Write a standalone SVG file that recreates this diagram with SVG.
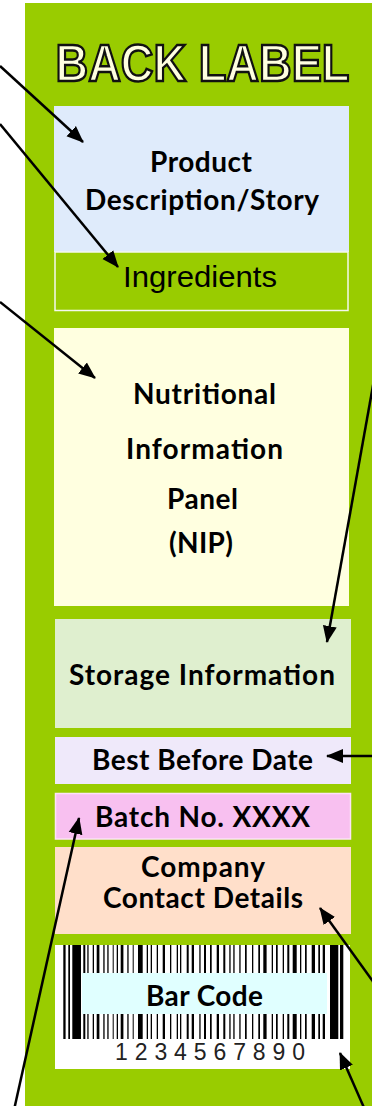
<svg xmlns="http://www.w3.org/2000/svg" width="372" height="1106" viewBox="0 0 372 1106">
<defs>
<style>
.lbl{font-family:Lato,"Open Sans","Liberation Sans",sans-serif;font-weight:bold;font-size:28px;fill:#000;text-anchor:middle}
.conn{stroke:#000;stroke-width:2.5;fill:none;marker-end:url(#ah)}
</style>
<marker id="ah" markerUnits="userSpaceOnUse" markerWidth="18" markerHeight="16" refX="16" refY="8" orient="auto">
<path d="M0,1 L17,8 L0,15 Z" fill="#000"/>
</marker>
</defs>
<rect x="0" y="0" width="372" height="1106" fill="#fff"/>
<rect x="25" y="3" width="347" height="1103" fill="#99cc00"/>
<g id="title">
<text x="202.5" y="81" font-family="'Liberation Sans',Arial,sans-serif" font-weight="bold" font-size="52" textLength="294" lengthAdjust="spacingAndGlyphs" text-anchor="middle" fill="#ffffe0" stroke="#111" stroke-width="2.5">BACK LABEL</text>
</g>
<g id="product">
<rect x="54" y="106" width="295" height="146" fill="#dfebfb"/>
<text class="lbl" x="201" y="172" textLength="102">Product</text>
<text class="lbl" x="202" y="210" textLength="234">Description/Story</text>
</g>
<g id="ingredients">
<rect x="55" y="252" width="293" height="58.5" fill="#99cc00" stroke="#f4f8ee" stroke-width="1.5"/>
<text x="200" y="287" font-family="'Liberation Sans',Arial,sans-serif" font-size="30" text-anchor="middle" textLength="154" lengthAdjust="spacingAndGlyphs">Ingredients</text>
</g>
<g id="nip">
<rect x="54" y="328" width="295" height="278" fill="#ffffe0"/>
<text class="lbl" x="204.5" y="404" textLength="143">Nutritional</text>
<text class="lbl" x="204.5" y="459" textLength="157">Information</text>
<text class="lbl" x="202.5" y="509" textLength="71">Panel</text>
<text class="lbl" x="201" y="553" textLength="64">(NIP)</text>
</g>
<g id="storage">
<rect x="55" y="619" width="296" height="109" fill="#dfefcf"/>
<text class="lbl" x="202" y="685" textLength="266">Storage Information</text>
</g>
<g id="bestbefore">
<rect x="55" y="737" width="296" height="47" fill="#efe9fa"/>
<text class="lbl" x="202.5" y="770" textLength="221">Best Before Date</text>
</g>
<g id="batch">
<rect x="55.5" y="793.5" width="295" height="45.5" fill="#f8c0f0" stroke="#fde2f8" stroke-width="1.5"/>
<text class="lbl" x="202.5" y="827" textLength="215">Batch No. XXXX</text>
</g>
<g id="company">
<rect x="55" y="847" width="296" height="87" fill="#ffdfca"/>
<text class="lbl" x="203" y="877" textLength="124">Company</text>
<text class="lbl" x="203" y="908" textLength="200">Contact Details</text>
</g>
<g id="barcode">
<rect x="55" y="945" width="295" height="124" fill="#fff"/>
<g fill="#000">
<rect x="63.3" y="945" width="2.3" height="94"/><rect x="68.3" y="945" width="1.7" height="94"/><rect x="72.3" y="945" width="8.7" height="94"/><rect x="83.3" y="945" width="2" height="94"/><rect x="87.3" y="945" width="1.3" height="94"/><rect x="92.7" y="945" width="1.3" height="94"/><rect x="96.7" y="945" width="2.7" height="94"/><rect x="103.3" y="945" width="1.3" height="94"/><rect x="107.3" y="945" width="1.3" height="94"/><rect x="112.7" y="945" width="1" height="94"/><rect x="116.7" y="945" width="1.3" height="94"/><rect x="120.7" y="945" width="2.7" height="94"/><rect x="127.3" y="945" width="1.3" height="94"/><rect x="132.7" y="945" width="1" height="94"/><rect x="138" y="945" width="4.7" height="94"/><rect x="146.7" y="945" width="1.3" height="94"/><rect x="150.7" y="945" width="1.3" height="94"/><rect x="156.7" y="945" width="1.3" height="94"/><rect x="162.7" y="945" width="2.3" height="94"/><rect x="170" y="945" width="1.3" height="94"/><rect x="176.7" y="945" width="1.3" height="94"/><rect x="180" y="945" width="1.3" height="94"/><rect x="186.7" y="945" width="2" height="94"/><rect x="191.7" y="945" width="2.3" height="94"/><rect x="199.3" y="945" width="1.3" height="94"/><rect x="204" y="945" width="2" height="94"/><rect x="210" y="945" width="1.7" height="94"/><rect x="216.7" y="945" width="2.3" height="94"/><rect x="223.3" y="945" width="2" height="94"/><rect x="229.3" y="945" width="1.3" height="94"/><rect x="233.3" y="945" width="1.3" height="94"/><rect x="239.3" y="945" width="1.3" height="94"/><rect x="245" y="945" width="1.7" height="94"/><rect x="252" y="945" width="1.3" height="94"/><rect x="258.3" y="945" width="1.7" height="94"/><rect x="263.3" y="945" width="3.3" height="94"/><rect x="271.7" y="945" width="1.3" height="94"/><rect x="276" y="945" width="1.7" height="94"/><rect x="282.7" y="945" width="1.3" height="94"/><rect x="287.3" y="945" width="2" height="94"/><rect x="292.7" y="945" width="4" height="94"/><rect x="300" y="945" width="1.3" height="94"/><rect x="305" y="945" width="1.7" height="94"/><rect x="311.7" y="945" width="3.3" height="94"/><rect x="318.3" y="945" width="1.7" height="94"/><rect x="322.7" y="945" width="2.3" height="94"/><rect x="330" y="945" width="8.3" height="94"/><rect x="340" y="945" width="3.3" height="94"/>
</g>
<rect x="82" y="973" width="245" height="41" fill="#e0ffff"/>
<text class="lbl" x="204.5" y="1006" textLength="117">Bar Code</text>
<text x="210" y="1060" font-family="'Liberation Sans',Arial,sans-serif" font-size="23" text-anchor="middle" fill="#222" textLength="190">1234567890</text>
</g>
<g id="connectors">
<line class="conn" x1="0" y1="66" x2="83" y2="142"/>
<line class="conn" x1="0" y1="124" x2="118" y2="267"/>
<line class="conn" x1="0" y1="302" x2="95" y2="378"/>
<line class="conn" x1="374" y1="380" x2="327" y2="642"/>
<line class="conn" x1="374" y1="756" x2="327" y2="756"/>
<line class="conn" x1="14" y1="1110" x2="79" y2="818"/>
<line class="conn" x1="374" y1="983" x2="320" y2="908"/>
<line class="conn" x1="365" y1="1110" x2="340" y2="1053"/>
</g>
</svg>
